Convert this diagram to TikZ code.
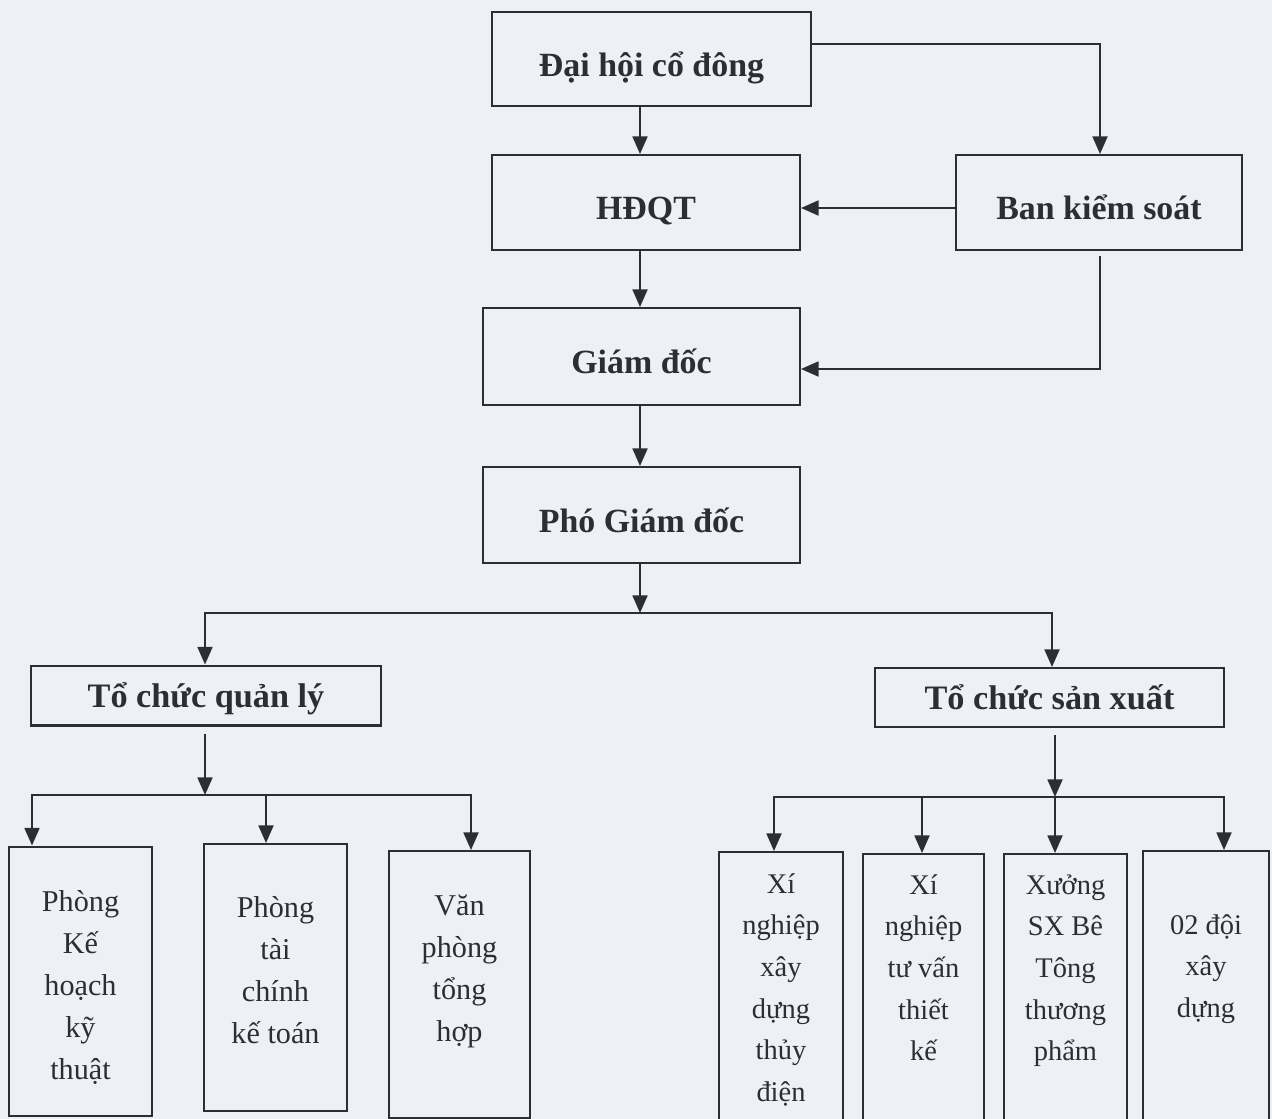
\documentclass[tikz,border=0pt]{standalone}
\usepackage{fontspec}
\setmainfont{Liberation Serif}
\usetikzlibrary{arrows.meta}
\definecolor{bg}{RGB}{238,240,248}
\definecolor{ink}{RGB}{45,45,52}
\begin{document}
\begin{tikzpicture}[x=0.02cm,y=-0.02cm,
  box/.style={draw=ink, line width=1.15pt, rectangle, inner sep=0pt},
  topbox/.style={box, font=\fontsize{19.3pt}{23pt}\selectfont\bfseries, text=ink,
    text height=19.7pt, text depth=0pt},
  midbox/.style={box, font=\fontsize{19.5pt}{23pt}\selectfont\bfseries, text=ink,
    text height=14.2pt, text depth=0pt},
  ltxt/.style={font=\fontsize{17.2pt}{23.9pt}\selectfont, text=ink, align=center,
    anchor=north, inner sep=0pt},
  rtxt/.style={font=\fontsize{16.2pt}{23.7pt}\selectfont, text=ink, align=center,
    anchor=north, inner sep=0pt},
  arr/.style={draw=ink, line width=1.15pt, -{Triangle[width=8.5pt,length=10pt]}},
  ln/.style={draw=ink, line width=1.15pt}]
\useasboundingbox (0,0) rectangle (1272,1119);
\clip (0,0) rectangle (1272,1119);
\fill[bg] (0,0) rectangle (1272,1119);

% top chain
\node[topbox, minimum width=6.38cm, minimum height=1.88cm] (D) at (651.5,59) {Đại hội cổ đông};
\node[topbox, minimum width=6.16cm, minimum height=1.9cm] (H) at (646,202.5) {HĐQT};
\node[topbox, minimum width=5.72cm, minimum height=1.9cm] (B) at (1099,202.5) {Ban kiểm soát};
\node[topbox, minimum width=6.34cm, minimum height=1.94cm] (G) at (641.5,356.5) {Giám đốc};
\node[topbox, minimum width=6.34cm, minimum height=1.92cm] (P) at (641.5,515) {Phó Giám đốc};

% second level
\node[midbox, minimum width=7.0cm, minimum height=1.2cm] (Q) at (206,695.5) {Tổ chức quản lý};
\node[midbox, minimum width=6.98cm, minimum height=1.18cm] (S) at (1049.5,697.5) {Tổ chức sản xuất};

% bottom boxes
\node[box, minimum width=2.86cm, minimum height=5.40cm] (q1) at (80.5,981.5) {};
\node[box, minimum width=2.86cm, minimum height=5.34cm] (q2) at (275.5,977.5) {};
\node[box, minimum width=2.82cm, minimum height=5.34cm] (q3) at (459.5,984.5) {};
\node[box, minimum width=2.48cm, minimum height=5.80cm] (s1) at (781,997) {};
\node[box, minimum width=2.42cm, minimum height=5.76cm] (s2) at (923.5,998) {};
\node[box, minimum width=2.46cm, minimum height=5.76cm] (s3) at (1065.5,998) {};
\node[box, minimum width=2.52cm, minimum height=5.80cm] (s4) at (1206,996) {};

\node[ltxt] (q1t) at (80.5,881) {\rule{0pt}{1em}Phòng\\Kế\\hoạch\\kỹ\\thuật};
\node[ltxt] (q2t) at (275.5,887) {\rule{0pt}{1em}Phòng\\tài\\chính\\kế toán};
\node[ltxt] (q3t) at (459.5,885) {\rule{0pt}{1em}Văn\\phòng\\tổng\\hợp};
\node[rtxt] (s1t) at (781,864.5) {\rule{0pt}{1em}Xí\\nghiệp\\xây\\dựng\\thủy\\điện};
\node[rtxt] (s2t) at (923.5,865.5) {\rule{0pt}{1em}Xí\\nghiệp\\tư vấn\\thiết\\kế};
\node[rtxt] (s3t) at (1065.5,865.5) {\rule{0pt}{1em}Xưởng\\SX Bê\\Tông\\thương\\phẩm};
\node[rtxt] (s4t) at (1206,905.5) {\rule{0pt}{1em}02 đội\\xây\\dựng};

% helper coordinates
\coordinate (cx) at (640,0);
\coordinate (k1) at (1100,44);
\coordinate (k2) at (0,208);
\coordinate (k3) at (1100,369);
\coordinate (j1) at (640,613);
\coordinate (j1l) at (205,613);
\coordinate (j1r) at (1052,613);
\coordinate (j2) at (205,795);
\coordinate (j2a) at (32,795);
\coordinate (j2b) at (266,795);
\coordinate (j2c) at (471,795);
\coordinate (j3) at (1055,797);
\coordinate (j3a) at (774,797);
\coordinate (j3b) at (922,797);
\coordinate (j3d) at (1224,797);

% connectors top
\draw[arr] (D.south -| cx) -- (H.north -| cx);
\draw[arr] (D.east |- k1) -- (k1) -- (k1 |- B.north);
\draw[arr] (B.west |- k2) -- (H.east |- k2);
\draw[arr] (H.south -| cx) -- (G.north -| cx);
\draw[arr] ([yshift=-3pt]B.south -| k3) -- (k3) -- (G.east |- k3);
\draw[arr] (G.south -| cx) -- (P.north -| cx);
\draw[arr] (P.south -| cx) -- (j1);
\draw[arr] (j1) -- (j1l) -- (j1l |- Q.north);
\draw[arr] (j1) -- (j1r) -- (j1r |- S.north);

% left branch
\draw[arr] ([yshift=-4pt]Q.south -| j2) -- (j2);
\draw[arr] (j2) -- (j2a) -- (j2a |- q1.north);
\draw[arr] (j2b) -- (j2b |- q2.north);
\draw[arr] (j2) -- (j2c) -- (j2c |- q3.north);

% right branch
\draw[arr] ([yshift=-4pt]S.south -| j3) -- (j3);
\draw[arr] (j3) -- (j3 |- s3.north);
\draw[arr] (j3) -- (j3a) -- (j3a |- s1.north);
\draw[arr] (j3b) -- (j3b |- s2.north);
\draw[arr] (j3) -- (j3d) -- (j3d |- s4.north);
\end{tikzpicture}
\end{document}
